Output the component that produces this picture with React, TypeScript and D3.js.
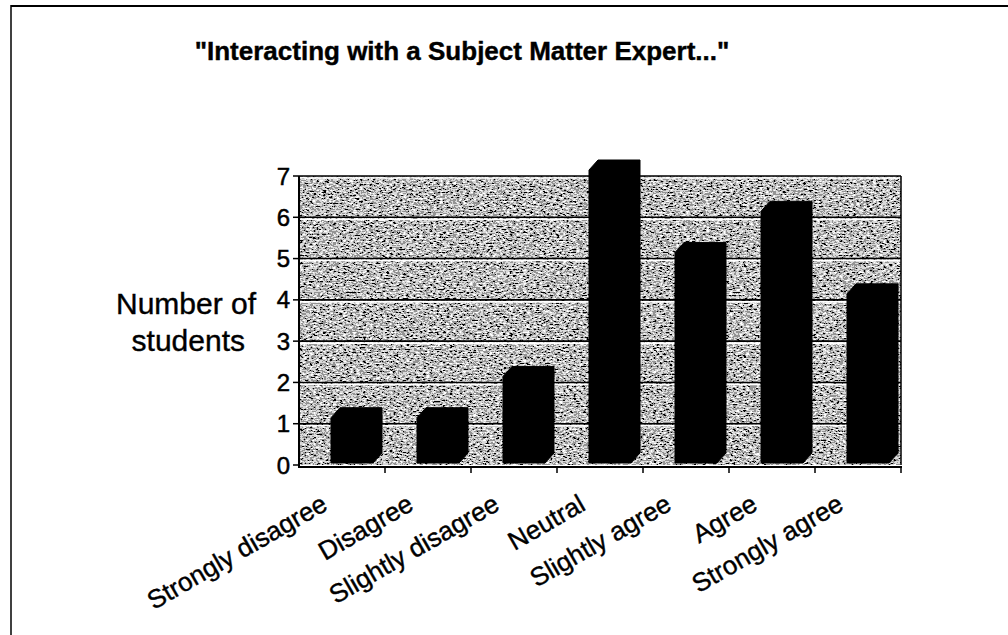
import React from "react";
import * as d3 from "d3";

const categories = [
  "Strongly disagree",
  "Disagree",
  "Slightly disagree",
  "Neutral",
  "Slightly agree",
  "Agree",
  "Strongly agree",
];
const counts = [1, 1, 2, 7, 5, 6, 4];
const yTicks = [0, 1, 2, 3, 4, 5, 6, 7];
const title = "\"Interacting with a Subject Matter Expert...\"";
const yTitleLines = ["Number of", "students"];

const W = 1008;
const H = 635;
const FONT = "'Liberation Sans', Arial, sans-serif";

export default function App() {
  const x = d3.scaleBand<string>().domain(categories).range([299, 901]).padding(0);
  const y = d3.scaleLinear().domain([0, 7]).range([465, 176]);
  const bw = x.bandwidth();
  const frontW = 42;
  const dx = 9;
  const dy = 10;
  const frontBottom = y(0) - 2;

  return (
    <svg width={W} height={H} style={{ position: "absolute", left: 0, top: 0 }}>
      <defs>
        <filter id="noise" x="0" y="0" width="100%" height="100%" filterUnits="objectBoundingBox">
          <feTurbulence type="fractalNoise" baseFrequency="0.3 0.65" numOctaves="3" seed="7" result="t" />
          <feColorMatrix
            in="t"
            type="matrix"
            values="1 0 0 0 0  1 0 0 0 0  1 0 0 0 0  0 0 0 0 1"
            result="g"
          />
          <feComponentTransfer in="g">
            <feFuncR type="discrete" tableValues="0 0 0.3 0.7 1 1" />
            <feFuncG type="discrete" tableValues="0 0 0.3 0.7 1 1" />
            <feFuncB type="discrete" tableValues="0 0 0.3 0.7 1 1" />
          </feComponentTransfer>
        </filter>
      </defs>
      <rect x={0} y={0} width={W} height={H} fill="#fff" />
      {/* outer frame */}
      <line x1={11} y1={6} x2={W} y2={6} stroke="#000" strokeWidth={2} />
      <line x1={11} y1={5} x2={11} y2={H} stroke="#000" strokeWidth={1.5} />

      {/* title */}
      <text
        x={462}
        y={60}
        textAnchor="middle"
        fontFamily={FONT}
        fontWeight="bold"
        fontSize={26}
        stroke="#000"
        strokeWidth={0.4}
      >
        {title}
      </text>

      {/* wall */}
      <rect x={299} y={y(7)} width={901 - 299} height={y(0) - y(7)} filter="url(#noise)" fill="#999" />
      {/* gridlines */}
      {yTicks.slice(1).map((t) => (
        <g key={t}>
          <line x1={299} x2={901} y1={y(t)} y2={y(t)} stroke="#000" strokeWidth={1.6} />
          <line x1={299} x2={901} y1={y(t) + 2} y2={y(t) + 2} stroke="#fff" strokeWidth={1.6} />
        </g>
      ))}
      <line x1={901} x2={901} y1={y(7)} y2={y(0)} stroke="#000" strokeWidth={1.5} />

      {/* bars */}
      {categories.map((c, i) => {
        const fx = (x(c) as number) + 32;
        const ft = y(counts[i]) - 6;
        const pts = [
          [fx, frontBottom],
          [fx, ft],
          [fx + dx, ft - dy],
          [fx + frontW + dx, ft - dy],
          [fx + frontW + dx, frontBottom - dy],
          [fx + frontW, frontBottom],
        ];
        return (
          <polygon
            key={c}
            points={pts.map((p) => p.join(",")).join(" ")}
            fill="#000"
            stroke="#000"
            strokeWidth={1}
          />
        );
      })}

      {/* axes */}
      <line x1={299} x2={902} y1={y(0) + 2} y2={y(0) + 2} stroke="#000" strokeWidth={2} />
      <line x1={299} x2={299} y1={y(7)} y2={y(0) + 3} stroke="#000" strokeWidth={2} />
      {yTicks.map((t) => (
        <g key={t}>
          <line x1={293} x2={299} y1={y(t)} y2={y(t)} stroke="#000" strokeWidth={1.5} />
          <text
            x={290}
            y={y(t) + 8.5}
            textAnchor="end"
            fontFamily={FONT}
            fontSize={24}
            stroke="#000"
            strokeWidth={0.5}
          >
            {t}
          </text>
        </g>
      ))}
      {categories.map((c) => (
        <line
          key={c}
          x1={(x(c) as number) + bw}
          x2={(x(c) as number) + bw}
          y1={y(0) + 2}
          y2={y(0) + 8}
          stroke="#000"
          strokeWidth={1.5}
        />
      ))}
      {categories.map((c) => {
        const cx = (x(c) as number) + bw / 2 - 13;
        const cy = 509;
        return (
          <text
            key={c}
            x={cx}
            y={cy}
            textAnchor="end"
            fontFamily={FONT}
            fontSize={26}
            stroke="#000"
            strokeWidth={0.4}
            transform={`rotate(-30, ${cx}, ${cy})`}
          >
            {c}
          </text>
        );
      })}

      {/* y title */}
      <text x={116} y={314} textAnchor="start" fontFamily={FONT} fontSize={30} stroke="#000" strokeWidth={0.4}>
        {yTitleLines[0]}
      </text>
      <text x={245} y={351} textAnchor="end" fontFamily={FONT} fontSize={30} stroke="#000" strokeWidth={0.4}>
        {yTitleLines[1]}
      </text>
    </svg>
  );
}
